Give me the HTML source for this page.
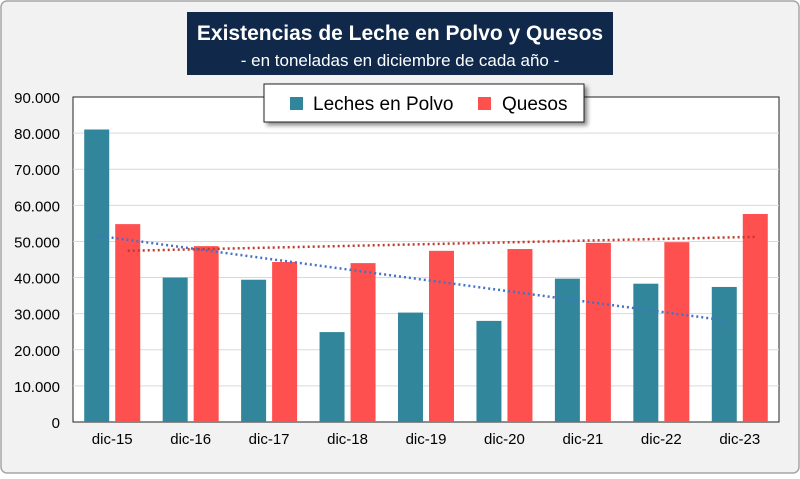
<!DOCTYPE html>
<html><head><meta charset="utf-8"><style>
body{margin:0;background:#fff;}
svg text{font-family:"Liberation Sans",Calibri,sans-serif;}
</style></head><body>
<svg width="800" height="474" viewBox="0 0 800 474" xmlns="http://www.w3.org/2000/svg">
<defs><filter id="sh" x="-10%" y="-20%" width="130%" height="160%"><feDropShadow dx="3" dy="3" stdDeviation="2" flood-color="#000" flood-opacity="0.45"/></filter></defs>
<rect x="1" y="1" width="798" height="472" rx="6" fill="#f2f2f2" stroke="#a6a6a6" stroke-width="1.5"/>
<rect x="73" y="97" width="706" height="325" fill="#fff" stroke="#222" stroke-width="1"/>
<g id="grid"></g><g id="bars"></g><g id="trend"></g><g id="axes"></g>
<rect x="187" y="12" width="426" height="63" fill="#10284a"/>
<text x="400" y="40" text-anchor="middle" fill="#fff" font-size="21" font-weight="bold">Existencias de Leche en Polvo y Quesos</text>
<text x="400" y="66" text-anchor="middle" fill="#fff" font-size="17">- en toneladas en diciembre de cada año -</text>
<g>
<rect x="264" y="84" width="320" height="38" fill="#fff" stroke="#222" filter="url(#sh)"/>
<rect x="290" y="97" width="13" height="13" fill="#31869b"/>
<text x="313" y="110" font-size="19" fill="#000">Leches en Polvo</text>
<rect x="478" y="97" width="13" height="13" fill="#ff5050"/>
<text x="502" y="110" font-size="19" fill="#000">Quesos</text>
</g>
</svg>
<script>
const categories=["dic-15","dic-16","dic-17","dic-18","dic-19","dic-20","dic-21","dic-22","dic-23"];
const leches=[81000,40000,39400,24900,30300,28000,39700,38300,37400];
const quesos=[54800,48700,44300,44000,47400,47900,49600,49800,57600];
const yTicks=[0,10000,20000,30000,40000,50000,60000,70000,80000,90000];
const yTickLabels=["0","10.000","20.000","30.000","40.000","50.000","60.000","70.000","80.000","90.000"];
const NS="http://www.w3.org/2000/svg";
const X0=73,X1=779,Y0=422,Y1=97,YMAX=90000;
const bw=(X1-X0)/categories.length;
function y(v){return Y0-(v/YMAX)*(Y0-Y1);}
function xc(i){return X0+bw*(i+0.5);}
function mk(tag,attrs,parent){const e=document.createElementNS(NS,tag);for(const k in attrs)e.setAttribute(k,attrs[k]);document.getElementById(parent).appendChild(e);return e;}
yTicks.forEach((t,i)=>{
 if(t>0&&t<YMAX){const l=mk("line",{x1:X0,x2:X1,y1:y(t),y2:y(t),stroke:"#d9d9d9","stroke-width":1},"grid");
 
 }
 const tx=mk("text",{x:X0-13,y:y(t)+6,"text-anchor":"end","font-size":"15",fill:"#000"},"axes");
 tx.textContent=yTickLabels[i];
 
 
});
const BW=25,GAP=6;
categories.forEach((c,i)=>{
 const b1=mk("rect",{x:xc(i)-GAP/2-BW,y:y(leches[i]),width:BW,height:Y0-y(leches[i]),fill:"#31869b"},"bars");
 
 
 const b2=mk("rect",{x:xc(i)+GAP/2,y:y(quesos[i]),width:BW,height:Y0-y(quesos[i]),fill:"#ff5050"},"bars");
 
 
 const tx=mk("text",{x:xc(i),y:Y0+22,"text-anchor":"middle","font-size":"15",fill:"#000"},"axes");
 tx.textContent=c;
 
 
});
function trend(vals,color,off,name){
 const n=vals.length;let sx=0,sy=0,sxy=0,sxx=0;
 vals.forEach((v,i)=>{sx+=i;sy+=v;sxy+=i*v;sxx+=i*i;});
 const m=(n*sxy-sx*sy)/(n*sxx-sx*sx),b=(sy-m*sx)/n;
 const l=mk("line",{x1:xc(0)+off,x2:xc(n-1)+off,y1:y(b),y2:y(b+m*(n-1)),stroke:color,"stroke-width":2.5,"stroke-dasharray":"2 3"},"trend");
 
 
}
trend(leches,"#4472c4",-GAP/2-BW/2,"trendline-leches");
trend(quesos,"#c0392b",GAP/2+BW/2,"trendline-quesos");
</script>
</body></html>
